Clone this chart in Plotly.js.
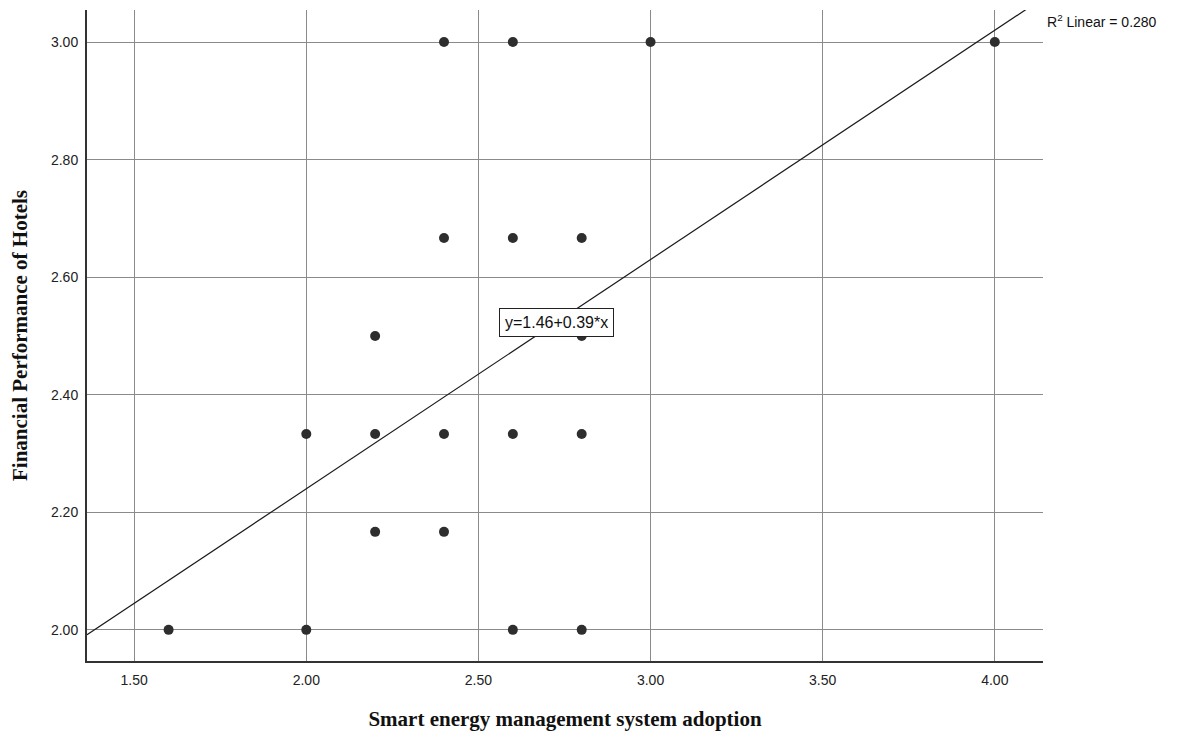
<!DOCTYPE html>
<html>
<head>
<meta charset="utf-8">
<script src="https://cdn.plot.ly/plotly-3.0.1.min.js"></script>
<style>body{margin:0;background:#fff;} #chart{width:1177px;height:738px;}</style>
</head>
<body>
<div id="chart"></div>
<script>
// Observed points (Smart energy management system adoption vs Financial Performance of Hotels)
const adoption = [2.4, 2.6, 3.0, 4.0, 2.4, 2.6, 2.8, 2.2, 2.8, 2.0, 2.2, 2.4, 2.6, 2.8, 2.2, 2.4, 1.6, 2.0, 2.6, 2.8];
const performance = [3.0, 3.0, 3.0, 3.0, 2.6667, 2.6667, 2.6667, 2.5, 2.5, 2.3333, 2.3333, 2.3333, 2.3333, 2.3333, 2.1667, 2.1667, 2.0, 2.0, 2.0, 2.0];
// Fit line
const intercept = 1.46;
const slope = 0.39;
const rSquared = 0.280;
const xRange = [1.363, 4.14];
const yRange = [1.947, 3.0545];
const xTicks = [1.5, 2.0, 2.5, 3.0, 3.5, 4.0];
const yTicks = [2.0, 2.2, 2.4, 2.6, 2.8, 3.0];

const fitX = [xRange[0], xRange[1]];
const fitY = fitX.map(x => intercept + slope * x);

const tickFont = {family: 'Arial, "Liberation Sans", sans-serif', size: 14, color: '#222'};
const titleFont = {family: '"Liberation Serif", "DejaVu Serif", serif', size: 21, color: '#111', weight: 'bold'};

const traces = [
  {
    x: fitX, y: fitY, mode: 'lines', type: 'scatter',
    line: {color: '#1a1a1a', width: 1.2}, hoverinfo: 'skip', showlegend: false
  },
  {
    x: adoption, y: performance, mode: 'markers', type: 'scatter',
    marker: {color: '#2e2e2e', size: 10, line: {width: 0}}, showlegend: false, cliponaxis: false
  }
];

const layout = {
  width: 1177, height: 738,
  margin: {l: 87, r: 134, t: 10, b: 77},
  paper_bgcolor: '#ffffff', plot_bgcolor: '#ffffff',
  showlegend: false,
  font: tickFont,
  xaxis: {
    range: xRange, tickvals: xTicks, ticktext: xTicks.map(v => v.toFixed(2)),
    showgrid: true, gridcolor: '#8a8a8a', gridwidth: 1,
    showline: true, linecolor: '#333', linewidth: 2, zeroline: false,
    ticks: '', ticklabelstandoff: 5,
    tickfont: tickFont,
    title: {text: 'Smart energy management system adoption', standoff: 25, font: titleFont}
  },
  yaxis: {
    range: yRange, tickvals: yTicks, ticktext: yTicks.map(v => v.toFixed(2)),
    showgrid: true, gridcolor: '#8a8a8a', gridwidth: 1,
    showline: true, linecolor: '#333', linewidth: 2, zeroline: false,
    ticks: '', ticklabelstandoff: 4,
    tickfont: tickFont,
    title: {text: 'Financial Performance of Hotels', standoff: 18, font: titleFont}
  },
  annotations: [
    {
      x: 2.726, y: 2.523, xref: 'x', yref: 'y',
      text: 'y=' + intercept.toFixed(2) + '+' + slope.toFixed(2) + '*x',
      showarrow: false, bgcolor: '#ffffff', bordercolor: '#222', borderwidth: 1, borderpad: 5,
      font: {family: 'Arial, "Liberation Sans", sans-serif', size: 16, color: '#111'}
    },
    {
      x: 1.002, y: 3.035, xref: 'paper', yref: 'y', xanchor: 'left', yanchor: 'middle',
      text: 'R<sup>2</sup> Linear = ' + rSquared.toFixed(3),
      showarrow: false,
      font: {family: 'Arial, "Liberation Sans", sans-serif', size: 14, color: '#111'}
    }
  ]
};

Plotly.newPlot('chart', traces, layout, {displayModeBar: false, staticPlot: true});
</script>
</body>
</html>
